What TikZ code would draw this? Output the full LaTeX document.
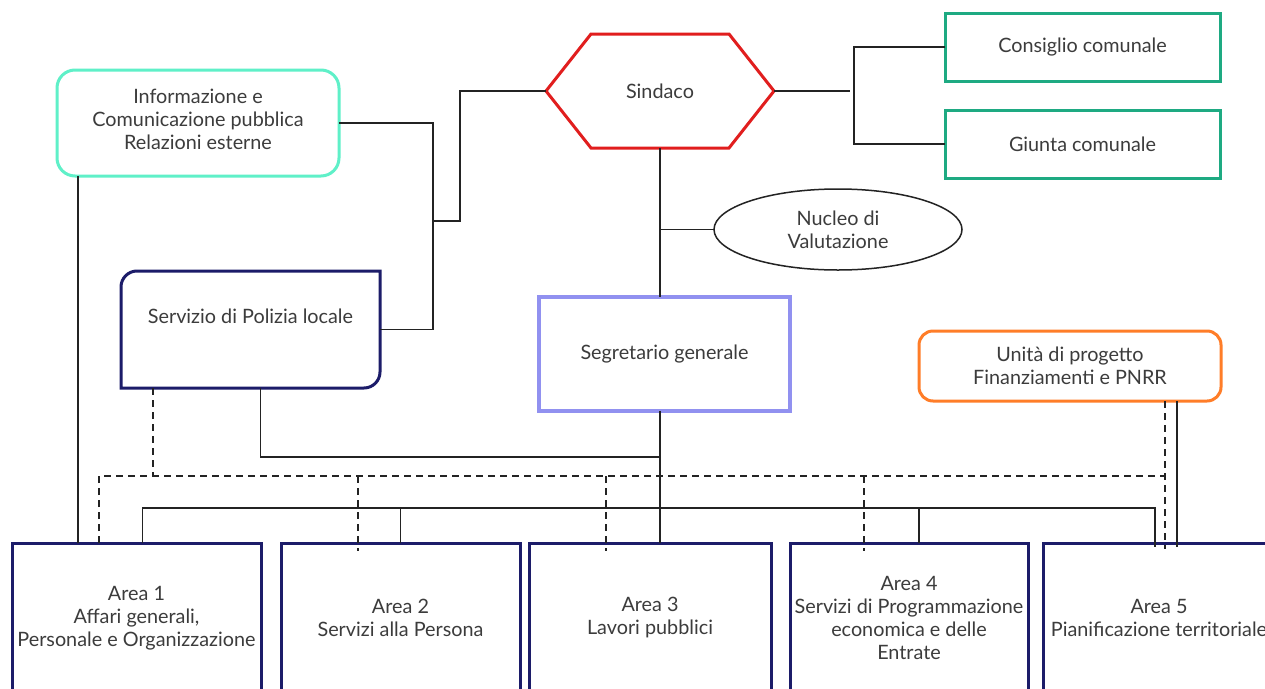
\documentclass[tikz,border=0pt]{standalone}
\usepackage{fontspec}
\setmainfont{Lato}
\usepackage{tikz}
\usetikzlibrary{positioning, calc, shapes.geometric}

\definecolor{infoc}{RGB}{95,240,200}
\definecolor{navyc}{RGB}{28,28,105}
\definecolor{sindc}{RGB}{225,30,30}
\definecolor{consc}{RGB}{30,170,130}
\definecolor{segrc}{RGB}{145,145,240}
\definecolor{unic}{RGB}{255,125,40}
\definecolor{textc}{RGB}{60,60,60}
\definecolor{linec}{RGB}{35,35,35}

\tikzset{
    txt/.style={text=textc, font=\fontsize{19.8}{23}\selectfont, align=center, inner sep=0pt, outer sep=0pt},
    box/.style={txt, draw, line width=3pt},
    conn/.style={draw=linec, line width=1.5pt},
    dashline/.style={conn, line width=1.7pt, dash pattern=on 7pt off 5pt},
}

\begin{document}
\begin{tikzpicture}[x=1pt,y=1pt,yscale=-1]
        \useasboundingbox (0,0) rectangle (1265,688);
        \fill[white] (0,0) rectangle (1265,688);
        \clip (0,0) rectangle (1265,688);

        %Top row
        \node[box, draw=infoc, rounded corners=18pt, minimum width=282, minimum height=106, text depth=7pt] (info) at (198,123) {Informazione e\\Comunicazione pubblica\\Relazioni esterne};
        \node[txt, minimum width=228, minimum height=114] (sind) at (660,91) {Sindaco};
        \draw[draw=sindc, line width=3pt] (sind.west) -- ([xshift=45]sind.north west) -- ([xshift=-45]sind.north east) -- (sind.east) -- ([xshift=-45]sind.south east) -- ([xshift=45]sind.south west) -- cycle;
        \node[box, draw=consc, minimum width=275, minimum height=68] (cons) at (1082.5,47) {Consiglio comunale};
        \node[box, draw=consc, minimum width=275, minimum height=68] (giun) at (1082.5,144) {Giunta comunale};

        %Middle row
        \node[txt, ellipse, draw=linec, line width=1.5pt, minimum width=248, minimum height=81] (nuc) at (838,229.5) {Nucleo di\\Valutazione};
        \node[txt, minimum width=259, minimum height=117, text height=12pt, text depth=25pt] (pol) at (250.5,329.5) {Servizio di Polizia locale};
        \draw[draw=navyc, line width=3pt] (pol.south west) [rounded corners=16pt] -- (pol.north west) [sharp corners] -- (pol.north east) [rounded corners=16pt] -- (pol.south east) [sharp corners] -- (pol.south west) -- cycle;
        \node[box, draw=segrc, line width=4pt, minimum width=251, minimum height=114] (segr) at (664.5,354) {Segretario generale};
        \node[box, draw=unic, rounded corners=14pt, minimum width=302, minimum height=70] (uni) at (1070,366) {Unità di progetto\\Finanziamenti e PNRR};

        %Areas
        \node[box, draw=navyc, minimum width=249, minimum height=150] (a1) at (136.5,618) {Area 1\\Affari generali,\\Personale e Organizzazione};
        \node[box, draw=navyc, minimum width=239, minimum height=150] (a2) at (400.5,618) {Area 2\\Servizi alla Persona};
        \node[box, draw=navyc, minimum width=242, minimum height=150] (a3) at (650,618) {Area 3\\Lavori pubblici};
        \node[box, draw=navyc, minimum width=238, minimum height=150] (a4) at (909,618) {Area 4\\Servizi di Programmazione\\economica e delle\\Entrate};
        \node[box, draw=navyc, minimum width=232, minimum height=150] (a5) at (1159,618) {Area 5\\Pianificazione territoriale};

        \coordinate (lbar) at (433,221);
        \coordinate (pjoin) at (660,457);
        \coordinate (dbus) at (0,476);
        \coordinate (sbus) at (0,508);
        \coordinate (udash) at ([xshift=-56]uni.south east);
        \coordinate (uline) at ([xshift=-44]uni.south east);

        %Sindaco links
        \draw[conn] (sind.west) -- ++(-86,0) |- (lbar);
        \draw[conn] (info.east) -| (lbar) |- (pol.east);
        \draw[conn] (sind.east) -- ++(76,0);
        \draw[conn] (cons.west) -- ++(-91,0) |- (giun.west);
        \draw[conn] (sind.south) -- (sind.south |- segr.north);
        \draw[conn] (nuc.west) -- (nuc.west -| sind.south);
        \draw[conn] (sind.south |- segr.south) -- (sind.south |- a3.north);
        \draw[conn] ([xshift=10]pol.south) |- (pjoin);
        \draw[conn] ([xshift=21]info.south west) -- ([xshift=21]info.south west |- a1.north);

        %Solid bus
        \draw[conn] ([xshift=6]a1.north) |- ([xshift=-4]a5.north |- sbus) -- ([xshift=-4,yshift=4]a5.north);
        \draw[conn] (a2.north) -- (a2.north |- sbus);
        \draw[conn] ([xshift=10]a4.north) -- ([xshift=10]a4.north |- sbus);
        \draw[conn] (uline) -- ([yshift=4]uline |- a5.north);

        %Dashed bus
        \draw[dashline] ([xshift=32]pol.south west) -- ([xshift=32]pol.south west |- dbus);
        \draw[dashline] ([xshift=87]a1.north west) |- (udash |- dbus);
        \draw[dashline] (udash) -- ([yshift=6]udash |- a5.north);
        \draw[dashline] ([xshift=77]a2.north west |- dbus) -- ([xshift=77,yshift=8]a2.north west);
        \draw[dashline] ([xshift=77]a3.north west |- dbus) -- ([xshift=77,yshift=8]a3.north west);
        \draw[dashline] ([xshift=74]a4.north west |- dbus) -- ([xshift=74,yshift=8]a4.north west);

    \end{tikzpicture}
\end{document}
